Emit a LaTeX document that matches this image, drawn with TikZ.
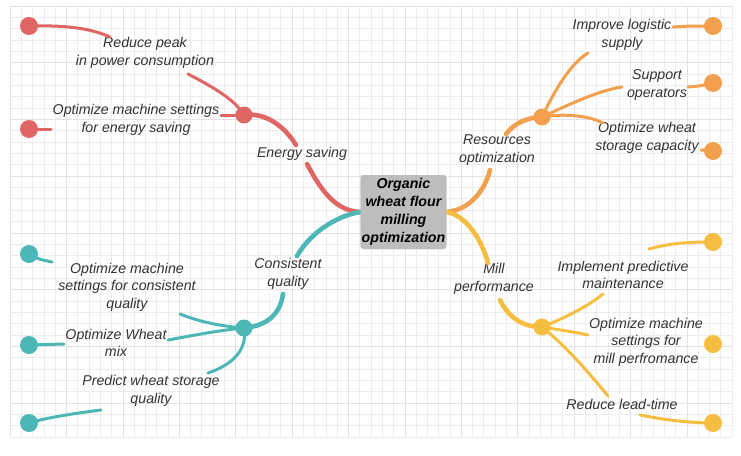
\documentclass[tikz,border=0pt]{standalone}
\usepackage{fontspec}
\setmainfont{Liberation Sans}
\definecolor{cred}{HTML}{E06666}
\definecolor{corange}{HTML}{F2A04E}
\definecolor{cyellow}{HTML}{F6BE40}
\definecolor{cteal}{HTML}{4DB6B6}
\definecolor{txt}{HTML}{333333}
\definecolor{gminor}{HTML}{EDEDED}
\definecolor{gmajor}{HTML}{E2E2E2}
\definecolor{rootfill}{HTML}{BDBDBD}
\tikzset{
  lbl/.style={font=\fontsize{14.2}{17.5}\selectfont\itshape, text=txt, align=center, inner sep=1pt},
  rootbox/.style={fill=rootfill, rounded corners=3pt, minimum width=85pt, minimum height=74pt,
     font=\fontsize{14.2}{18.2}\selectfont\bfseries\itshape, align=center, inner sep=1pt},
  enddot/.style={circle, minimum size=18pt, inner sep=0pt, fill=#1},
  hubdot/.style={circle, minimum size=17pt, inner sep=0pt, fill=#1},
  mainbr/.style={line width=4.6pt, draw=#1, line cap=round},
  subbr/.style={line width=3pt, draw=#1, line cap=round},
}
\begin{document}
\begin{tikzpicture}[x=1pt,y=-1pt]
\useasboundingbox (0,0) rectangle (741,455);
\fill[white] (0,0) rectangle (741,455);
% grid
\foreach \i in {0,...,64} {
  \pgfmathsetmacro{\xx}{10+\i*11.28}
  \draw[gminor, line width=0.6pt] (\xx,6) -- (\xx,437);
}
\foreach \j in {0,...,38} {
  \pgfmathsetmacro{\yy}{6+\j*11.34}
  \draw[gminor, line width=0.6pt] (10,\yy) -- (732,\yy);
}
\foreach \i in {0,5,...,60} {
  \pgfmathsetmacro{\xx}{10+\i*11.28}
  \draw[gmajor, line width=0.6pt] (\xx,6) -- (\xx,437);
}
\foreach \j in {0,5,...,35} {
  \pgfmathsetmacro{\yy}{6+\j*11.34}
  \draw[gmajor, line width=0.6pt] (10,\yy) -- (732,\yy);
}

% root
\node[rootbox] (root) at (403.5,212) {Organic\\wheat flour\\milling\\optimization};

% labels
\node[lbl] (tReduce) at (145,53) {Reduce peak\\in power consumption};
\node[lbl] (tOptE) at (136,120) {Optimize machine settings\\for energy saving};
\node[lbl] (tEnergy) at (302,154) {Energy saving};
\node[lbl] (tRes) at (497,150) {Resources\\optimization};
\node[lbl] (tLog) at (622,35) {Improve logistic\\supply};
\node[lbl] (tSup) at (657,85) {Support\\operators};
\node[lbl] (tSto) at (647,138) {Optimize wheat\\storage capacity};
\node[lbl] (tCons) at (288,274) {Consistent\\quality};
\node[lbl] (tOptC) at (127,287) {Optimize machine\\settings for consistent\\quality};
\node[lbl] (tMix) at (116,343) {Optimize Wheat\\mix};
\node[lbl] (tPred) at (151,391) {Predict wheat storage\\quality};
\node[lbl] (tMill) at (494,279) {Mill\\performance};
\node[lbl] (tImpl) at (623,275) {Implement predictive\\maintenance};
\node[lbl] (tOptM) at (646,342) {Optimize machine\\settings for\\mill perfromance};
\node[lbl] (tLead) at (622,404) {Reduce lead-time};

% coordinates: hubs and end dots
\coordinate (hR) at (244,115);
\coordinate (hO) at (542,117);
\coordinate (hT) at (244,328);
\coordinate (hY) at (542,327);
\coordinate (dR1) at (29,26);
\coordinate (dR2) at (29,129);
\coordinate (dO1) at (713,26);
\coordinate (dO2) at (713,83);
\coordinate (dO3) at (713,151);
\coordinate (dT1) at (29,254);
\coordinate (dT2) at (29,345);
\coordinate (dT3) at (29,423);
\coordinate (dY1) at (713,242);
\coordinate (dY2) at (713,344);
\coordinate (dY3) at (713,423);
% break points near labels
\coordinate (rA) at (110,37);
\coordinate (rB) at (188,74);
\coordinate (rC) at (51,129);
\coordinate (rD) at (221,115);
\coordinate (rE1) at (296,145);
\coordinate (rE2) at (307,164);
\coordinate (oR1) at (490,170);
\coordinate (oR2) at (506,134);
\coordinate (oL1) at (588,53);
\coordinate (oL2) at (673,27);
\coordinate (oS1) at (622,87);
\coordinate (oS2) at (688,87);
\coordinate (oT1) at (603,123);
\coordinate (oT2) at (701,150);
\coordinate (tC1) at (297,256);
\coordinate (tC2) at (283,294);
\coordinate (tO1) at (52,262);
\coordinate (tO2) at (180,314);
\coordinate (tM1) at (64,344);
\coordinate (tM2) at (168,340);
\coordinate (tP1) at (208,373);
\coordinate (tP2) at (101,410);
\coordinate (yM1) at (488,263);
\coordinate (yM2) at (500,300);
\coordinate (yI1) at (603,294);
\coordinate (yI2) at (649,249);
\coordinate (yO1) at (588,335);
\coordinate (yL1) at (608,396);
\coordinate (yL2) at (640,415);

% red branch
\draw[subbr=cred] (dR1) .. controls (70,25) and (92,29) .. (rA);
\draw[subbr=cred] (rB) .. controls (215,88) and (235,100) .. (hR);
\draw[subbr=cred] (dR2) -- (rC);
\draw[subbr=cred] (rD) -- (hR);
\draw[mainbr=cred] (hR) .. controls (266,112) and (285,127) .. (rE1);
\draw[mainbr=cred] (rE2) .. controls (322,192) and (336,211) .. (root.west);

% orange branch
\draw[mainbr=corange] (root.east) .. controls (470,210) and (485,190) .. (oR1);
\draw[mainbr=corange] (oR2) .. controls (515,122) and (530,117) .. (hO);
\draw[subbr=corange] (hO) .. controls (555,90) and (570,64) .. (oL1);
\draw[subbr=corange] (oL2) .. controls (690,26) .. (dO1);
\draw[subbr=corange] (hO) .. controls (570,104) and (600,90) .. (oS1);
\draw[subbr=corange] (oS2) .. controls (700,86) .. (dO2);
\draw[subbr=corange] (hO) .. controls (565,113) and (590,116) .. (oT1);
\draw[subbr=corange] (oT2) -- (dO3);

% teal branch
\draw[mainbr=cteal] (root.west) .. controls (340,215) and (312,230) .. (tC1);
\draw[mainbr=cteal] (tC2) .. controls (280,316) and (265,326) .. (hT);
\draw[subbr=cteal] (dT1) .. controls (38,259) .. (tO1);
\draw[subbr=cteal] (hT) .. controls (220,326) and (200,322) .. (tO2);
\draw[subbr=cteal] (dT2) -- (tM1);
\draw[subbr=cteal] (hT) .. controls (220,330) and (190,336) .. (tM2);
\draw[subbr=cteal] (hT) .. controls (248,350) and (232,365) .. (tP1);
\draw[subbr=cteal] (tP2) .. controls (70,414) and (45,418) .. (dT3);

% yellow branch
\draw[mainbr=cyellow] (root.east) .. controls (466,215) and (482,240) .. (yM1);
\draw[mainbr=cyellow] (yM2) .. controls (510,320) and (525,327) .. (hY);
\draw[subbr=cyellow] (hY) .. controls (565,318) and (590,305) .. (yI1);
\draw[subbr=cyellow] (yI2) .. controls (670,243) and (690,242) .. (dY1);
\draw[subbr=cyellow] (hY) .. controls (560,330) and (575,332) .. (yO1);
\draw[subbr=cyellow] (hY) .. controls (565,345) and (590,374) .. (yL1);
\draw[subbr=cyellow] (yL2) .. controls (670,421) and (695,423) .. (dY3);

% dots
\node[hubdot=cred] (nhR) at (hR) {};
\node[hubdot=corange] (nhO) at (hO) {};
\node[hubdot=cteal] (nhT) at (hT) {};
\node[hubdot=cyellow] (nhY) at (hY) {};
\node[enddot=cred] (ndR1) at (dR1) {};
\node[enddot=cred] (ndR2) at (dR2) {};
\node[enddot=corange] (ndO1) at (dO1) {};
\node[enddot=corange] (ndO2) at (dO2) {};
\node[enddot=corange] (ndO3) at (dO3) {};
\node[enddot=cteal] (ndT1) at (dT1) {};
\node[enddot=cteal] (ndT2) at (dT2) {};
\node[enddot=cteal] (ndT3) at (dT3) {};
\node[enddot=cyellow] (ndY1) at (dY1) {};
\node[enddot=cyellow] (ndY2) at (dY2) {};
\node[enddot=cyellow] (ndY3) at (dY3) {};

% root redrawn on top
\node[rootbox] (rootTop) at (root.center) {Organic\\wheat flour\\milling\\optimization};
\end{tikzpicture}
\end{document}
